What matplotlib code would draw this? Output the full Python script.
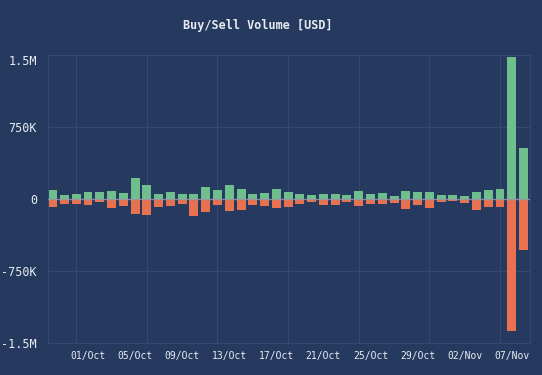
import numpy as np
import pandas as pd
import matplotlib
matplotlib.use('Agg')
import matplotlib.pyplot as plt
import matplotlib.transforms as mtransforms

# daily buy / sell volume in USD, 28 Sep .. 07 Nov
days = pd.date_range('2023-09-28', '2023-11-07', freq='D')
buy = [94e3, 45e3, 52e3, 69e3, 76e3, 83e3, 59e3, 218e3, 146e3, 52e3,
       69e3, 49e3, 55e3, 120e3, 90e3, 146e3, 101e3, 52e3, 59e3, 104e3,
       76e3, 55e3, 38e3, 52e3, 52e3, 42e3, 83e3, 55e3, 59e3, 28e3,
       87e3, 73e3, 73e3, 45e3, 38e3, 31e3, 69e3, 94e3, 101e3, 1480e3,
       528e3]
sell = [80e3, 55e3, 49e3, 66e3, 31e3, 90e3, 73e3, 160e3, 170e3, 83e3,
        69e3, 55e3, 173e3, 140e3, 59e3, 128e3, 111e3, 66e3, 69e3, 97e3,
        80e3, 55e3, 31e3, 59e3, 59e3, 35e3, 69e3, 49e3, 52e3, 42e3,
        108e3, 62e3, 94e3, 35e3, 24e3, 38e3, 118e3, 83e3, 80e3, 1372e3,
        531e3]
tick_days = ['01/Oct', '05/Oct', '09/Oct', '13/Oct', '17/Oct', '21/Oct',
             '25/Oct', '29/Oct', '02/Nov', '07/Nov']
y_ticks = [-1.5e6, -750e3, 0, 750e3, 1.5e6]
y_labels = ['-1.5M', '-750K', '0', '750K', '1.5M']

bg = '#253a5e'
green = '#6fbf8c'
red = '#e8714f'
grid = '#34496d'
txt = '#e8ecf2'

plt.rcParams['font.family'] = ['DejaVu Sans Mono']

fig = plt.figure(figsize=(5.42, 3.75), dpi=100, facecolor=bg)
ax = fig.add_axes([48 / 542, 1 - 343 / 375, 482 / 542, 288 / 375])
ax.set_facecolor(bg)

x = np.arange(len(days))
ax.bar(x, buy, width=0.76, color=green, zorder=2)
ax.bar(x, -np.array(sell), width=0.76, color=red, zorder=2)
ax.axhline(0, color='#8d9db5', lw=1, alpha=0.8, zorder=3)

ax.set_xlim(-0.4, len(days) - 0.45)
ax.set_ylim(-1.5e6, 1.5e6)

# vertical grid every 6 days, horizontal at the y ticks
for g in x[2::6]:
    ax.axvline(g, color=grid, lw=0.8, zorder=1)
for t in y_ticks:
    ax.axhline(t, color=grid, lw=0.8, zorder=1)

labels = [d.strftime('%d/%b') for d in days]
pos = [labels.index(t) for t in tick_days]
ax.set_xticks(pos)
ax.set_xticklabels(tick_days, fontsize=7, color=txt)
ax.set_yticks(y_ticks)
ax.set_yticklabels(y_labels, fontsize=8.5, color=txt)
ax.tick_params(length=0, pad=8)
ax.tick_params(axis='x', pad=6)

# keep the last labels inside the plot
last = ax.get_xticklabels()[-1]
last.set_ha('right')
last.set_transform(last.get_transform() + mtransforms.ScaledTranslation(0.06, 0, fig.dpi_scale_trans))
ax.get_yticklabels()[-1].set_va('top')

for s in ax.spines.values():
    s.set_color(grid)
    s.set_linewidth(0.8)

fig.text(258 / 542, 1 - 25 / 375, 'Buy/Sell Volume [USD]', ha='center', va='center',
         fontsize=8.5, fontweight='bold', color=txt)

fig.savefig('out.png', dpi=100, facecolor=bg)
